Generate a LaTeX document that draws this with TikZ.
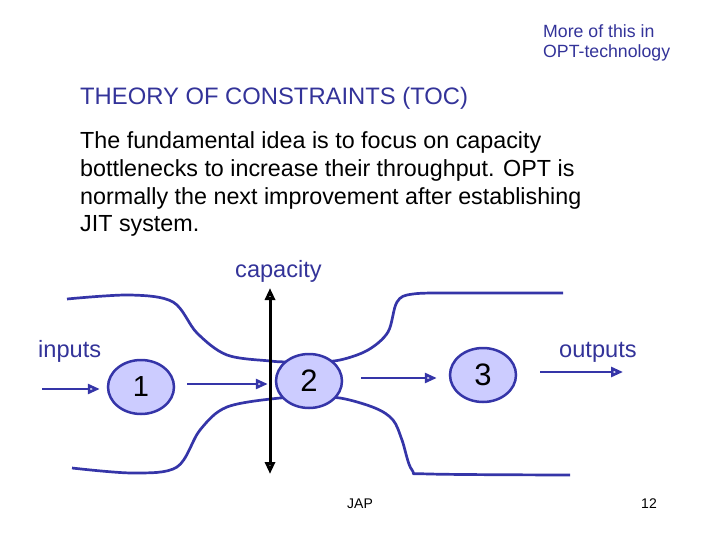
\documentclass[tikz,border=0pt]{standalone}
\usepackage{fontspec}
\setmainfont{Liberation Sans}
\usetikzlibrary{shapes.geometric,arrows.meta}
\definecolor{dblue}{HTML}{333399}
\definecolor{lineblue}{HTML}{3535A8}
\definecolor{lblue}{HTML}{CCCCFF}
\begin{document}
\begin{tikzpicture}[x=1pt,y=-1pt,
  proc/.style={ellipse, draw=lineblue, line width=2.5pt, fill=lblue, minimum width=66pt, minimum height=54pt, inner sep=0pt, font=\fontsize{31}{33}\selectfont},
  flow/.style={draw=lineblue, line width=2.7pt},
  arr/.style={draw=lineblue, line width=2.7pt, -{Triangle[open,length=12pt,width=10pt]}},
  caparr/.style={draw=black, line width=3pt, {Triangle[open,length=12pt,width=10pt]}-{Triangle[open,length=12pt,width=10pt]}},
  lbl/.style={text=dblue, font=\fontsize{23.6}{26}\selectfont, inner sep=0pt},
  body/.style={text=black, font=\fontsize{23.3}{26}\selectfont, inner sep=0pt, anchor=base west},
  note/.style={text=dblue, font=\fontsize{17.7}{20}\selectfont, inner sep=0pt, anchor=base west},
  foot/.style={text=black, font=\fontsize{14}{16}\selectfont, inner sep=0pt}
]
\useasboundingbox (0,0) rectangle (720,540);

% texts
\node[note] (n1) at (543,38) {More of this in};
\node[note] (n2) at (543,58) {OPT-technology};
\node[lbl, anchor=base west, font=\fontsize{23.8}{26}\selectfont] (title) at (80,105) {THEORY OF CONSTRAINTS (TOC)};
\node[body] (b1) at (80,149) {The fundamental idea is to focus on capacity};
\node[body] (b2) at (80,177) {bottlenecks to increase their throughput. OPT is};
\node[body] (b3) at (80,205) {normally the next improvement after establishing};
\node[body] (b4) at (80,232) {JIT system.};
\node[lbl, anchor=base west] (cap) at (235,277) {capacity};
\node[lbl, anchor=base west] (inp) at (38,357) {inputs};
\node[lbl, anchor=base west] (outp) at (559,357) {outputs};
\node[foot, anchor=base west] (jap) at (347,508) {JAP};
\node[foot, anchor=base east] (pg) at (657,508) {12};

% flow channel curves
\draw[flow] plot[smooth, tension=0.55] coordinates {(67,299) (130,295) (173,302) (197,333) (227,355) (270,361) (287,362) (309,363)};
\draw[flow] plot[smooth, tension=0.55] coordinates {(309,363) (340,360) (368,350) (388,332) (397,302) (413,294) (460,293) (563,293)};
\draw[flow] plot[smooth, tension=0.55] coordinates {(72,468) (133,473) (177,467) (200,430) (227,407) (280,398) (309,398)};
\draw[flow] plot[smooth, tension=0.55] coordinates {(309,398) (340,398) (375,408) (393,420) (402,440) (412,470) (430,474) (570,475)};

% process nodes
\node[proc, font=\fontsize{29}{31}\selectfont] (e1) at (141,387) {1};
\node[proc] (e2) at (309,381) {2};
\node[proc] (e3) at (483,375) {3};

% connectors
\coordinate (in) at (42,389);
\coordinate (out) at (623,372);
\draw[arr] (in) -- ([xshift=-7pt,yshift=-2pt]e1.west);
\draw[arr] ([xshift=12pt,yshift=3pt]e1.east) -- ([xshift=-7pt,yshift=-3pt]e2.west);
\draw[arr] ([xshift=18pt,yshift=3pt]e2.east) -- ([xshift=-12pt,yshift=-3pt]e3.west);
\draw[arr] ([xshift=23pt,yshift=3pt]e3.east) -- (out);

% capacity arrow
\coordinate (ct) at (270,288);
\coordinate (cb) at (270,474);
\draw[caparr] (cb) -- (ct);
\end{tikzpicture}
\end{document}
